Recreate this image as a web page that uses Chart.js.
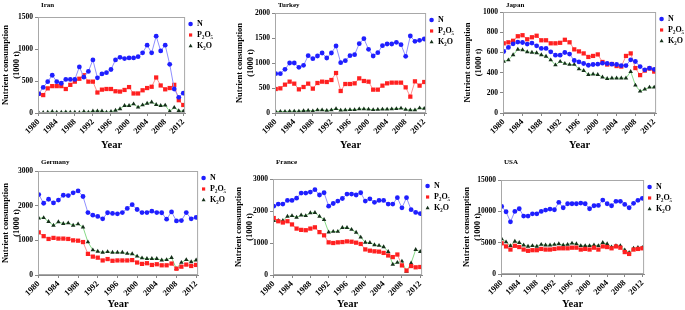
<!DOCTYPE html>
<html>
<head>
<meta charset="utf-8">
<script src="https://cdn.jsdelivr.net/npm/chart.js@4.4.1/dist/chart.umd.min.js"></script>
<style>
  body { margin: 0; background: #fff; width: 685px; height: 310px; position: relative; overflow: hidden; }
  canvas { position: absolute; }
</style>
</head>
<body>
<canvas id="iran"></canvas>
<canvas id="turkey"></canvas>
<canvas id="japan"></canvas>
<canvas id="germany"></canvas>
<canvas id="france"></canvas>
<canvas id="usa"></canvas>
<script>
// years 1980 - 2012
const years = [];
for (let y = 1980; y <= 2012; y++) years.push(y);
const yearTicks = [1980, 1984, 1988, 1992, 1996, 2000, 2004, 2008, 2012];

const seriesNames = ['N', 'P₂O₅', 'K₂O'];

const iranN = [300, 400, 490, 590, 490, 465, 525, 525, 525, 720, 560, 650, 830, 550, 610, 630, 680, 830, 870, 850, 860, 860, 880, 940, 1060, 940, 1200, 970, 1060, 760, 375, 245, 310];
const iranP = [300, 280, 385, 420, 420, 420, 375, 440, 490, 535, 590, 490, 490, 320, 365, 375, 375, 340, 335, 360, 405, 305, 305, 355, 390, 410, 555, 430, 370, 390, 440, 200, 125];
const iranK = [5, 5, 10, 20, 10, 10, 15, 10, 10, 5, 20, 10, 30, 30, 30, 10, 20, 40, 65, 115, 115, 140, 90, 125, 150, 170, 130, 115, 120, 25, 85, 35, 25];

const turkeyN = [787, 787, 873, 1000, 1000, 913, 953, 1147, 1087, 1140, 1200, 1100, 1200, 1340, 1007, 1047, 1147, 1167, 1387, 1487, 1273, 1140, 1207, 1347, 1380, 1380, 1413, 1367, 1133, 1540, 1433, 1453, 1480];
const turkeyP = [480, 493, 567, 627, 587, 473, 520, 587, 487, 600, 627, 620, 660, 800, 440, 580, 580, 593, 693, 640, 627, 467, 467, 547, 593, 607, 607, 607, 513, 327, 633, 547, 620];
const turkeyK = [30, 30, 30, 35, 35, 35, 45, 50, 40, 60, 60, 50, 60, 85, 55, 60, 65, 65, 80, 80, 75, 65, 70, 75, 75, 80, 85, 95, 70, 60, 60, 100, 90];

const japanN = [609, 649, 685, 702, 698, 682, 692, 665, 639, 639, 606, 573, 573, 599, 583, 520, 506, 490, 473, 480, 483, 493, 490, 483, 480, 470, 470, 526, 510, 460, 427, 444, 432];
const japanP = [690, 700, 715, 760, 770, 730, 750, 765, 720, 720, 690, 690, 695, 725, 700, 630, 610, 590, 555, 565, 580, 505, 480, 485, 465, 460, 565, 590, 445, 375, 420, 440, 410];
const japanK = [510, 525, 575, 630, 625, 605, 600, 595, 575, 560, 525, 475, 510, 490, 480, 480, 435, 420, 380, 385, 380, 355, 340, 345, 345, 345, 345, 410, 275, 215, 235, 255, 255];

const germanyN = [2320, 2070, 2185, 2080, 2160, 2300, 2290, 2370, 2425, 2265, 1800, 1725, 1690, 1620, 1795, 1775, 1765, 1800, 1920, 2030, 1890, 1800, 1800, 1840, 1800, 1795, 1610, 1820, 1560, 1570, 1800, 1620, 1660];
const germanyP = [1230, 1120, 1040, 1070, 1050, 1050, 1040, 1000, 990, 950, 610, 530, 500, 420, 460, 410, 420, 420, 420, 430, 360, 320, 340, 290, 310, 280, 280, 330, 180, 240, 300, 260, 290];
const germanyK = [1640, 1650, 1540, 1430, 1530, 1480, 1500, 1430, 1470, 1380, 950, 720, 680, 650, 670, 650, 650, 650, 620, 610, 540, 490, 470, 470, 470, 430, 440, 500, 180, 360, 440, 380, 430];

const franceN = [2150, 2215, 2215, 2330, 2330, 2400, 2560, 2560, 2590, 2665, 2500, 2570, 2150, 2235, 2310, 2390, 2530, 2530, 2500, 2570, 2310, 2380, 2270, 2330, 2330, 2215, 2215, 2415, 2100, 2415, 2040, 1955, 1920];
const franceP = [1780, 1680, 1640, 1680, 1580, 1450, 1410, 1400, 1450, 1490, 1340, 1240, 1020, 1000, 1020, 1030, 1050, 1040, 1010, 970, 800, 760, 740, 730, 690, 610, 560, 640, 300, 140, 280, 240, 250];
const franceK = [1700, 1700, 1700, 1830, 1850, 1800, 1870, 1850, 1940, 1950, 1830, 1730, 1340, 1360, 1360, 1480, 1480, 1420, 1330, 1180, 1020, 1010, 940, 920, 880, 730, 330, 390, 430, 110, 370, 790, 730];

const usaN = [10790, 9930, 8330, 9990, 10410, 9240, 9240, 9610, 9610, 9990, 10200, 10360, 10250, 11430, 10570, 11210, 11210, 11210, 11320, 11210, 10410, 10890, 10950, 11800, 11210, 10890, 11590, 11590, 11110, 10570, 11270, 11750, 12070];
const usaP = [4900, 4400, 3900, 4500, 4300, 3900, 3700, 3800, 3800, 4000, 3900, 3900, 4000, 4100, 4100, 4100, 4200, 4200, 3900, 4000, 3900, 4200, 3900, 4400, 4300, 4100, 4400, 4200, 3500, 3200, 3900, 4000, 4100];
const usaK = [5600, 5100, 4500, 5200, 5000, 4600, 4400, 4500, 4400, 4700, 4600, 4600, 4700, 4800, 4600, 4700, 4900, 4800, 4500, 4500, 4500, 4600, 4500, 5000, 4800, 4300, 4500, 4500, 3800, 3400, 4100, 4200, 4200];

const serif = "'Liberation Serif', 'Times New Roman', 'DejaVu Serif', serif";

// grey box round the plot area + small country name above it
const frame = {
    id: 'frame',
    afterDraw(chart, args, opts) {
        const a = chart.chartArea;
        const ctx = chart.ctx;
        ctx.save();
        ctx.strokeStyle = '#a8a8a8';
        ctx.lineWidth = 1;
        ctx.strokeRect(a.left + 0.5, a.top + 0.5, a.right - a.left - 1, a.bottom - a.top - 1);
        ctx.fillStyle = '#000';
        ctx.font = 'bold 7px ' + serif;
        ctx.textBaseline = 'middle';
        ctx.fillText(opts.text, a.left + 3, opts.y);
        ctx.restore();
    }
};

function toPoints(values) {
    return values.map((v, i) => ({x: years[i], y: v}));
}

function drawPanel(p) {
    const el = document.getElementById(p.id);
    el.width = p.w;
    el.height = p.h;
    el.style.left = p.left + 'px';
    el.style.top = p.top + 'px';

    new Chart(el, {
        type: 'line',
        data: {
            datasets: [{
                label: seriesNames[0],
                data: toPoints(p.n),
                borderColor: '#8f8fff',
                backgroundColor: '#1f1fff',
                pointBackgroundColor: '#1f1fff',
                pointBorderWidth: 0,
                pointStyle: 'circle',
                pointRadius: 2.4,
                borderWidth: 1
            }, {
                label: seriesNames[1],
                data: toPoints(p.p),
                borderColor: '#ff9090',
                backgroundColor: '#ff2020',
                pointBackgroundColor: '#ff2020',
                pointBorderWidth: 0,
                pointStyle: 'rect',
                pointRadius: 3,
                borderWidth: 1
            }, {
                label: seriesNames[2],
                data: toPoints(p.k),
                borderColor: '#86d986',
                backgroundColor: '#15301a',
                pointBackgroundColor: '#15301a',
                pointBorderWidth: 0,
                pointStyle: 'triangle',
                pointRadius: 2.6,
                borderWidth: 1
            }]
        },
        options: {
            responsive: false,
            animation: false,
            layout: {padding: {top: p.plotTop}},
            plugins: {
                legend: {
                    position: 'right',
                    align: 'start',
                    fullSize: false,
                    labels: {
                        usePointStyle: true,
                        boxWidth: 5,
                        boxHeight: 3.2,
                        padding: 3,
                        color: '#000',
                        font: {family: serif, size: 8, weight: 'bold'},
                        generateLabels: (chart) => {
                            const items = Chart.defaults.plugins.legend.labels.generateLabels(chart);
                            items.forEach(it => { it.lineWidth = 0; });
                            return items;
                        }
                    }
                },
                title: {display: false},
                tooltip: {enabled: false},
                frame: {text: p.title, y: p.titleY}
            },
            scales: {
                x: {
                    type: 'linear',
                    min: 1979.85,
                    max: 2012.4,
                    afterBuildTicks: (s) => { s.ticks = yearTicks.map(v => ({value: v})); },
                    afterFit: (s) => { s.height = p.h - p.bottom; },
                    ticks: {
                        autoSkip: false,
                        maxRotation: 45,
                        minRotation: 45,
                        padding: 1,
                        color: '#000',
                        font: {family: serif, size: 8.5, weight: 'bold'},
                        callback: (v) => String(v)
                    },
                    grid: {drawOnChartArea: false, tickLength: 3, color: '#888'},
                    border: {color: '#888'},
                    title: {
                        display: true,
                        text: 'Year',
                        color: '#000',
                        font: {family: serif, size: 10.5, weight: 'bold', lineHeight: 1},
                        padding: {top: 0, bottom: p.yearBottom}
                    }
                },
                y: {
                    min: 0,
                    max: p.yMax,
                    afterFit: (s) => { s.width = p.yW; },
                    ticks: {
                        stepSize: p.yStep,
                        padding: 2,
                        color: '#000',
                        font: {family: serif, size: 7.5, weight: 'bold'},
                        callback: (v) => String(v)
                    },
                    grid: {drawOnChartArea: false, tickLength: 3, color: '#888'},
                    border: {color: '#888'},
                    title: {
                        display: true,
                        text: ['Nutrient consumption', '(1000 t)'],
                        color: '#000',
                        font: {family: serif, size: 8.5, weight: 'bold', lineHeight: 1.2},
                        padding: {top: p.yTitlePad, bottom: 0}
                    }
                }
            }
        },
        plugins: [frame]
    });
}

drawPanel({id: 'iran', title: 'Iran', n: iranN, p: iranP, k: iranK, yMax: 1500, yStep: 500,
    left: 0, top: 0, w: 223, h: 155, yW: 38, plotTop: 17, bottom: 113, titleY: 5, yearBottom: 4.7, yTitlePad: 1});
drawPanel({id: 'turkey', title: 'Turkey', n: turkeyN, p: turkeyP, k: turkeyK, yMax: 2000, yStep: 500,
    left: 230, top: 0, w: 234, h: 155, yW: 45, plotTop: 13, bottom: 113, titleY: 5, yearBottom: 4.7, yTitlePad: 5});
drawPanel({id: 'japan', title: 'Japan', n: japanN, p: japanP, k: japanK, yMax: 1000, yStep: 200,
    left: 458, top: 0, w: 236, h: 155, yW: 45, plotTop: 12, bottom: 113, titleY: 5, yearBottom: 4.7, yTitlePad: 5});
drawPanel({id: 'germany', title: 'Germany', n: germanyN, p: germanyP, k: germanyK, yMax: 3000, yStep: 1000,
    left: 0, top: 155, w: 236, h: 155, yW: 38, plotTop: 16, bottom: 120, titleY: 7, yearBottom: 0, yTitlePad: 1});
drawPanel({id: 'france', title: 'France', n: franceN, p: franceP, k: franceK, yMax: 3000, yStep: 1000,
    left: 230, top: 155, w: 230, h: 155, yW: 43, plotTop: 24, bottom: 120, titleY: 7, yearBottom: 0, yTitlePad: 4});
drawPanel({id: 'usa', title: 'USA', n: usaN, p: usaP, k: usaK, yMax: 15000, yStep: 5000,
    left: 458, top: 155, w: 224, h: 155, yW: 43, plotTop: 25, bottom: 119, titleY: 7, yearBottom: 0, yTitlePad: 4});
</script>
</body>
</html>
